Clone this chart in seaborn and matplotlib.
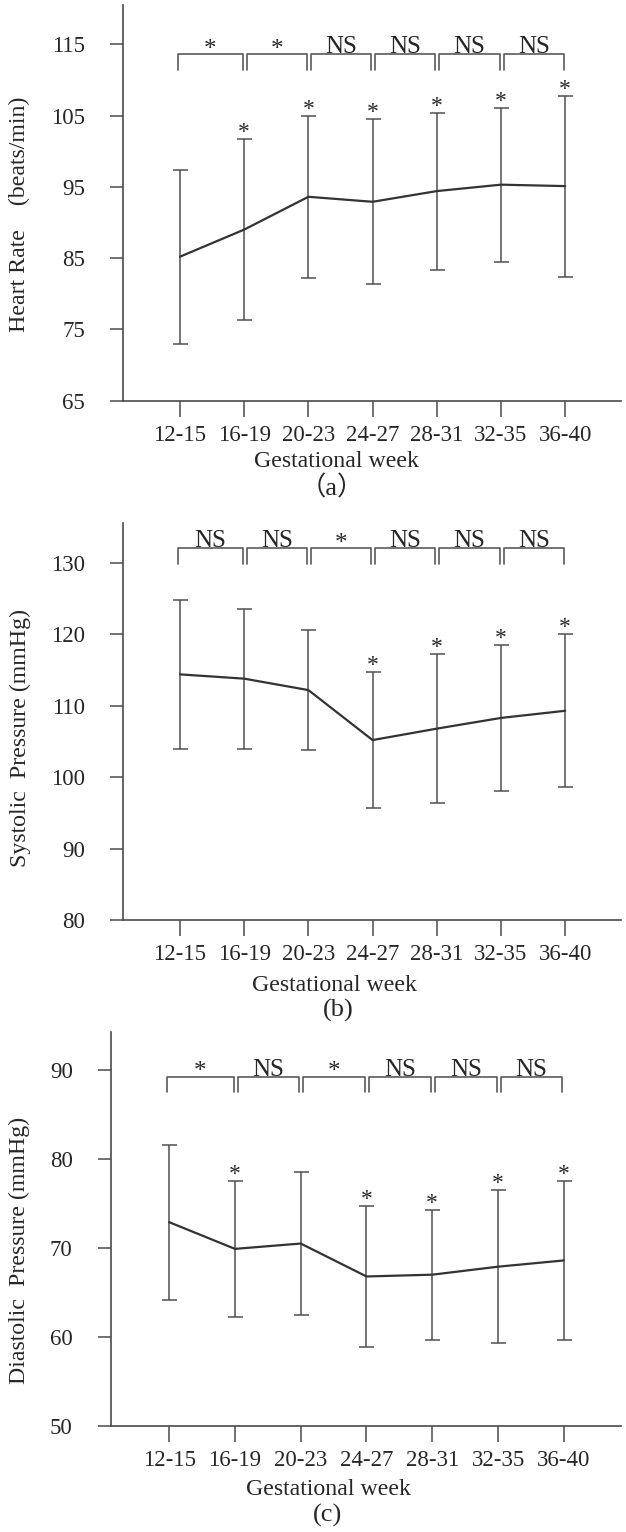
import matplotlib
matplotlib.use("Agg")
import matplotlib.pyplot as plt
import numpy as np
import pandas as pd
import seaborn as sns

# %% DATA
weeks = ["12-15", "16-19", "20-23", "24-27", "28-31", "32-35", "36-40"]

hr_mean = [85.2, 89.0, 93.6, 92.9, 94.4, 95.3, 95.1]
hr_sd = [12.2, 12.7, 11.4, 11.6, 11.0, 10.8, 12.7]
hr_pair_labels = ["*", "*", "NS", "NS", "NS", "NS"]
hr_star_idx = [1, 2, 3, 4, 5, 6]

sbp_mean = [114.4, 113.8, 112.2, 105.2, 106.8, 108.3, 109.3]
sbp_sd = [10.4, 9.8, 8.4, 9.5, 10.4, 10.2, 10.7]
sbp_pair_labels = ["NS", "NS", "*", "NS", "NS", "NS"]
sbp_star_idx = [3, 4, 5, 6]

dbp_mean = [72.9, 69.9, 70.5, 66.8, 67.0, 67.9, 68.6]
dbp_sd = [8.7, 7.6, 8.0, 7.9, 7.3, 8.6, 8.9]
dbp_pair_labels = ["*", "NS", "*", "NS", "NS", "NS"]
dbp_star_idx = [1, 3, 4, 5, 6]

# %% STYLE
sns.set_style("ticks")
plt.rcParams["font.family"] = ["Liberation Serif", "Noto Sans CJK SC"]
INK = "#262626"
AXC = "#4a4a4a"
TICK_FS = 16.5
LAB_FS = 17.2

W, H = 626, 1532
fig = plt.figure(figsize=(W / 100, H / 100), dpi=100)


def px_rect(left, top, right, bottom):
    return [left / W, 1 - bottom / H, (right - left) / W, (bottom - top) / H]


panels = [
    dict(rect=px_rect(123.2, 5, 621, 400.7), mean=hr_mean, sd=hr_sd,
         ylim=(65, 120.5), yticks=[65, 75, 85, 95, 105, 115],
         ylabel="Heart Rate    (beats/min)", ylab_xy=(-0.209, 0.47),
         xlab_xy=(0.4275, -0.154), letter="\uff08a\uff09", letter_xy=(332, 488),
         pairs=hr_pair_labels, stars=hr_star_idx, br=(113.6, 111.4)),
    dict(rect=px_rect(123.2, 523, 621, 920), mean=sbp_mean, sd=sbp_sd,
         ylim=(80, 135.6), yticks=[80, 90, 100, 110, 120, 130],
         ylabel="Systolic  Pressure (mmHg)", ylab_xy=(-0.207, 0.458),
         xlab_xy=(0.4235, -0.164), letter="(b)", letter_xy=(338, 1010),
         pairs=sbp_pair_labels, stars=sbp_star_idx, br=(132.1, 129.9)),
    dict(rect=px_rect(111, 1031.7, 621, 1426), mean=dbp_mean, sd=dbp_sd,
         ylim=(50, 94.3), yticks=[50, 60, 70, 80, 90],
         ylabel="Diastolic  Pressure (mmHg)", ylab_xy=(-0.18, 0.445),
         xlab_xy=(0.4255, -0.16), letter="(c)", letter_xy=(327, 1515),
         pairs=dbp_pair_labels, stars=dbp_star_idx, br=(89.25, 87.56)),
]

x = np.arange(len(weeks))

for p in panels:
    ax = fig.add_axes(p["rect"])
    df = pd.DataFrame({"pos": x, "mean": p["mean"], "sd": p["sd"]})

    ax.errorbar(df["pos"], df["mean"], yerr=df["sd"], fmt="none",
                ecolor="#505050", elinewidth=1.1, capsize=5.4, capthick=1.1)
    sns.lineplot(data=df, x="pos", y="mean", ax=ax, color="#333333",
                 linewidth=1.6)

    # stars above error bars
    for i in p["stars"]:
        ax.annotate("*", (i, df["mean"][i] + df["sd"][i]), xytext=(0, 0.7),
                    textcoords="offset points", ha="center", va="baseline",
                    fontsize=17, color=INK)

    # brackets between adjacent weeks
    top, low = p["br"]
    for i, lab in enumerate(p["pairs"]):
        x0 = i - 0.035 if i == 0 else i + 0.04
        x1 = i + 1 - 0.02
        ax.plot([x0, x0, x1, x1], [low, top, top, low], color="#5a5a5a",
                linewidth=1.2, clip_on=False)
        off = 0.6 if lab == "NS" else -1.2
        ax.annotate(lab, ((x0 + x1) / 2, top), xytext=(0, off),
                    textcoords="offset points", ha="center", va="baseline",
                    fontsize=18, color=INK)

    ax.set_xlim(-0.885, 6.87)
    ax.set_ylim(*p["ylim"])
    ax.set_xticks(x)
    ax.set_xticklabels(weeks)
    ax.set_yticks(p["yticks"])
    ax.tick_params(axis="x", direction="out", length=11.5, width=1.1,
                   color=AXC, pad=6, labelsize=TICK_FS, labelcolor=INK)
    ax.tick_params(axis="y", direction="out", length=9.6, width=1.1,
                   color=AXC, pad=18, labelsize=TICK_FS, labelcolor=INK)
    for side in ["top", "right"]:
        ax.spines[side].set_visible(False)
    for side in ["left", "bottom"]:
        ax.spines[side].set_color(AXC)
        ax.spines[side].set_linewidth(1.2)

    ax.set_xlabel("Gestational week", fontsize=LAB_FS, color=INK)
    ax.xaxis.set_label_coords(*p["xlab_xy"])
    ax.xaxis.label.set_va("center")
    ax.set_ylabel(p["ylabel"], fontsize=LAB_FS, color=INK)
    ax.yaxis.set_label_coords(*p["ylab_xy"])
    ax.yaxis.label.set_va("center")

    lx, ly = p["letter_xy"]
    fig.text(lx / W, 1 - ly / H, p["letter"], ha="center", va="center",
             fontsize=19, color=INK)

fig.savefig("out.png", dpi=100)
